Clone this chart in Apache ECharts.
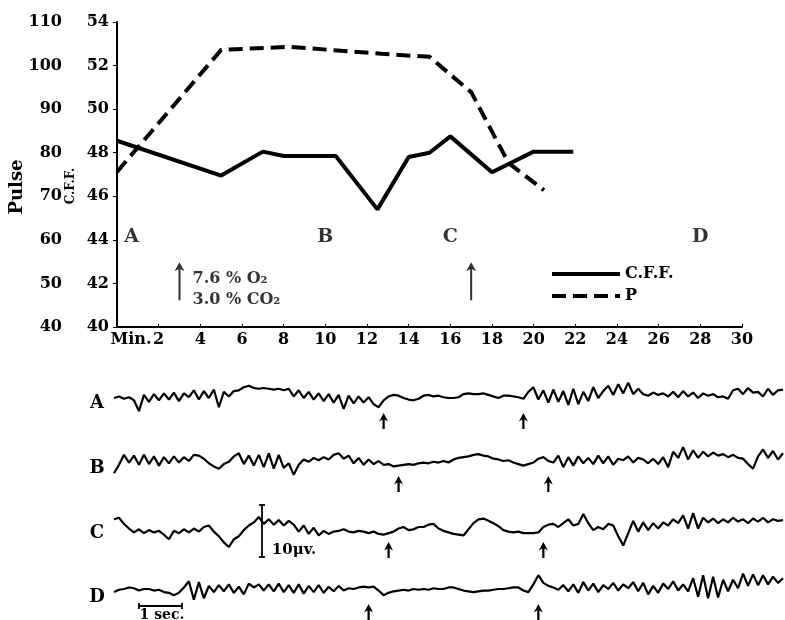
<!DOCTYPE html>
<html>
<head>
<meta charset="utf-8">
<script src="https://cdn.jsdelivr.net/npm/echarts@6.0.0/dist/echarts.min.js"></script>
<style>
  html, body { margin: 0; padding: 0; background: #fff; }
  #main { width: 785px; height: 620px; }
</style>
</head>
<body>
<div id="main"></div>
<script>
// upper panel: C.F.F. and pulse against minutes
var cffMin = [0, 5, 7, 8, 10.5, 12.5, 14, 15, 16, 18, 20, 21.9];
var cffVal = [48.55, 46.95, 48.05, 47.85, 47.85, 45.4, 47.8, 48.0, 48.75, 47.1, 48.05, 48.05];
var pulseMin = [0, 5, 8.3, 12.7, 15, 17, 18.8, 20.5];
var pulseVal = [75.6, 103.6, 104.3, 102.7, 102.0, 93.9, 77.6, 71.4];

// tick labels
var minTicks = [2, 4, 6, 8, 10, 12, 14, 16, 18, 20, 22, 24, 26, 28, 30];
var cffTicks = [40, 42, 44, 46, 48, 50, 52, 54];
var pulseTicks = [40, 50, 60, 70, 80, 90, 100, 110];

// record markers and gas arrows in the upper panel
var recMin = [0.7, 10, 16, 28];
var recNames = ['A', 'B', 'C', 'D'];
var gasMin = [3, 17];
var gasText = ['7.6 % O₂\n3.0 % CO₂', ''];

// EEG records A-D, one value every ~5 px (deflection, up positive)
var traceA = [0, 2, -1, 1, -3, -17,
  4, -5, 5, -3, 6, -2, 7, -4, 6, 1,
  10, -2, 9, 0, 11, -12, 8, 2, 9,
  10, 14, 16, 13, 12, 13,
  12, 11, 12, 10,
  12, 2, 10, 0, 8, -2, 6, -4, 5, -6, 4, -14, 3, -7, 2, -6, 1, -8, -12,
  -3, 2, 4, 3, 0, -2, -3, -1, 3, 4, 2, 3, 1, 0, 0, 1, 5, 6, 5, 5, 6, 4, 2, 0, 3, 3, 2, 1, -1,
  8, 14, -2, 10, -6, 11, -5, 9, -9, 12, -8, 8, -4, 14, 0, 9,
  16, 4, 18, 6, 20, 5, 12,
  5, 3, 7, 4, 6, 2,
  8, 1, 9, 2, 7, 0, 6, 3, 5, 1, 2, -1,
  10, 12, 5, 13, 7, 8, 2, 12, 4, 10, 11];
var traceB = [-16, -5, 8, -2, 7, -5, 8, -4, 6, -6,
  5, -3, 6, -2, 5, 0, 8, 7, 3, -3,
  -7, -10, -4, -1, 6, 10, -4, 7, -6, 8,
  -8, 10, -10, 8, -9, -3, -18, -5, 2, -1,
  4, 1, 5, 2, 8, 10, 3, 7, -3, 4,
  -5, 2, -4, 0, -5, -4, -7, -6, -5, -4,
  -5, -3, -2, -3, -1, -2, 0, -2, 2, 4,
  5, 6, 8, 9, 7, 6, 3, 2, 0, 1,
  -2, -4, -6, -4, -2, 3, 5, 0, -2, 7,
  -8, 5, -6, 6, -3, 4, -4, 7, -3, 6,
  -5, 3, 1, 6, -2, 4, 2, -3, 3, -4,
  5, -8, 12, 4, 18, 2, 14, 4, 12, 6,
  11, 7, 9, 5, 8, 4, 3, -4, -10, 6,
  15, 4, 13, 2, 10];
var traceC = [10, 12, 4, -2, -7, -3, -8, -4, -7, -5,
  -10, -16, -5, -8, -3, -7, -2, -6, 0, 2,
  -6, -12, -20, -26, -16, -12, -4, 2, 6, 13,
  4, 10, 3, 9, 2, 8, 3, -6, 2, -9,
  -1, -11, -5, -9, -6, -5, -3, -6, -7, -5,
  -6, -8, -6, -9, -10, -8, -6, -2, 0, -4,
  -3, 0, 0, 3, 4, -2, -5, -7, -9, -10,
  -11, -3, 5, 10, 11, 8, 5, 1, -4, -6,
  -7, -6, -8, -8, -8, -7, 0, 3, 4, 0,
  5, 10, 2, 4, 17, 5, -4, 0, -3, 4,
  2, -12, -24, -8, 8, -6, 6, -4, 5, -2,
  6, 2, 10, 5, 15, -2, 18, -2, 12, 6,
  11, 5, 10, 6, 12, 7, 10, 5, 11, 7,
  12, 6, 10, 8, 9];
var traceD = [-4, -1, 0, 2, 1, -2, 0, 0, -2, -1,
  -4, -5, -8, -5, 2, 10, -14, 9, -12, 4,
  -4, 5, -3, 6, -5, 3, -7, 7, 2, 6,
  -2, 6, -3, 7, -4, 5, -5, 6, -6, 4,
  -4, 5, -5, 3, -3, 4, -2, 1, 0, 2,
  3, 2, 3, -2, -8, -5, -3, -2, -1, -2,
  0, -1, 0, -1, 1, 0, 0, 2, 2, 0,
  -2, -3, -4, -3, -2, -2, -1, 0, 0, 1,
  2, 2, -2, -4, 6, 18, 8, 4, 2, -1,
  5, -3, 6, -5, 9, -2, 7, -4, 5, 0,
  8, -2, 6, 1, 9, -3, 8, -7, 4, -5,
  7, 0, 10, -2, 6, -3, 14, -10, 18, -12,
  16, -11, 12, -3, 12, 1, 20, 4, 19, 5,
  18, 6, 16, 8, 14];
// sample index of the arrows under each record
var arrowsA = [54, 82];
var arrowsB = [57, 87];
var arrowsC = [55, 86];
var arrowsD = [51, 85];

var FONT = 'DejaVu Serif';
var traces = [traceA, traceB, traceC, traceD];
var arrows = [arrowsA, arrowsB, arrowsC, arrowsD];
var baseY = [398, 461, 527, 589];
var bigArrow = 'path://M5,0 L10,9 L6,7 L6,38 L4,38 L4,7 L0,9 Z';
var smallArrow = 'path://M4,0 L8,8 L5,6 L5,15 L3,15 L3,6 L0,8 Z';

var grids = [{ left: 117, top: 22, width: 625, height: 305, containLabel: false }];
var xAxes = [{
  type: 'value', gridIndex: 0, min: 0, max: minTicks[minTicks.length - 1], interval: minTicks[1] - minTicks[0],
  axisLine: { lineStyle: { color: '#000', width: 2 } },
  axisTick: { inside: true, length: 3, lineStyle: { color: '#000' } },
  splitLine: { show: false },
  axisLabel: {
    color: '#000', fontFamily: FONT, fontSize: 16, fontWeight: 'bold', margin: 5,
    formatter: function (v) { return v === 0 ? '' : String(v); }
  }
}];
var yAxes = [{
  type: 'value', gridIndex: 0, position: 'left',
  min: cffTicks[0], max: cffTicks[cffTicks.length - 1], interval: cffTicks[1] - cffTicks[0],
  axisLine: { show: true, lineStyle: { color: '#000', width: 2 } },
  axisTick: { show: true, length: 4, lineStyle: { color: '#000' } },
  splitLine: { show: false },
  axisLabel: { color: '#000', fontFamily: FONT, fontSize: 16, fontWeight: 'bold', margin: 8 }
}, {
  type: 'value', gridIndex: 0, position: 'left', offset: 47,
  min: pulseTicks[0], max: pulseTicks[pulseTicks.length - 1], interval: pulseTicks[1] - pulseTicks[0],
  axisLine: { show: false }, axisTick: { show: false },
  splitLine: { show: false },
  axisLabel: { color: '#000', fontFamily: FONT, fontSize: 16, fontWeight: 'bold', margin: 8 }
}];

var series = [{
  name: 'C.F.F.', type: 'line', xAxisIndex: 0, yAxisIndex: 0,
  data: cffMin.map(function (m, i) { return [m, cffVal[i]]; }),
  symbol: 'none', itemStyle: { color: '#000' },
  lineStyle: { color: '#000', width: 4 }
}, {
  name: 'P', type: 'line', xAxisIndex: 0, yAxisIndex: 1,
  data: pulseMin.map(function (m, i) { return [m, pulseVal[i]]; }),
  symbol: 'none', itemStyle: { color: '#000' },
  lineStyle: { color: '#000', width: 4, type: [14, 7] }
}, {
  type: 'scatter', xAxisIndex: 0, yAxisIndex: 0,
  data: recMin.map(function (m, i) { return [m, 44.15, recNames[i]]; }),
  symbolSize: 1, itemStyle: { color: 'rgba(0,0,0,0)' },
  label: {
    show: true, position: 'inside', color: '#000', fontFamily: FONT, fontSize: 19, fontWeight: 'bold',
    formatter: function (p) { return p.data[2]; }
  }
}, {
  type: 'scatter', xAxisIndex: 0, yAxisIndex: 0,
  data: gasMin.map(function (m, i) { return [m, 42.1, gasText[i]]; }),
  symbol: bigArrow, symbolSize: [10, 38], itemStyle: { color: '#000' },
  label: {
    show: true, position: 'right', distance: 8, offset: [0, 8],
    color: '#000', fontFamily: FONT, fontSize: 16, fontWeight: 'bold', lineHeight: 21,
    formatter: function (p) { return p.data[2]; }
  }
}];

traces.forEach(function (tr, k) {
  var g = k + 1;
  grids.push({ left: 114, width: 669, top: baseY[k] - 30, height: 60, containLabel: false });
  xAxes.push({
    type: 'category', gridIndex: g, boundaryGap: false, show: false,
    data: tr.map(function (v, i) { return i; })
  });
  yAxes.push({ type: 'value', gridIndex: g, min: -39, max: 39, show: false });
  series.push({
    type: 'line', xAxisIndex: xAxes.length - 1, yAxisIndex: yAxes.length - 1, data: tr,
    symbol: 'none', lineStyle: { color: '#000', width: 2.2 },
    markPoint: {
      symbol: smallArrow, symbolSize: [9, 16],
      itemStyle: { color: '#000' }, label: { show: false },
      data: arrows[k].map(function (i) { return { coord: [i, -30] }; })
    }
  });
});

var txt = function (x, y, s, size, extra) {
  var o = {
    type: 'text', x: x, y: y,
    style: { text: s, fill: '#000', font: 'bold ' + size + 'px "' + FONT + '"', textAlign: 'center', textVerticalAlign: 'middle' }
  };
  if (extra) Object.keys(extra).forEach(function (key) { o[key] = extra[key]; });
  return o;
};
var ln = function (x1, y1, x2, y2, w) {
  return { type: 'line', shape: { x1: x1, y1: y1, x2: x2, y2: y2 }, style: { stroke: '#000', lineWidth: w || 1.5 } };
};

var graphics = [
  txt(17, 187, 'Pulse', 18, { rotation: Math.PI / 2 }),
  txt(71, 186, 'C.F.F.', 12, { rotation: Math.PI / 2 }),
  txt(131, 340, 'Min.', 16),
  // scale bars
  ln(262, 505, 262, 557, 1.8), ln(259, 505, 265, 505, 1.8), ln(259, 557, 265, 557, 1.8),
  txt(294, 550, '10μv.', 15),
  ln(139, 606, 182, 606, 1.8), ln(139, 603, 139, 609, 1.8), ln(182, 603, 182, 609, 1.8),
  txt(162, 615, '1 sec.', 14)
];
recNames.forEach(function (n, k) {
  graphics.push(txt(97, [403, 468, 533, 597][k], n, 18));
});

var chart = echarts.init(document.getElementById('main'));
chart.setOption({
  animation: false,
  backgroundColor: '#fff',
  grid: grids,
  xAxis: xAxes,
  yAxis: yAxes,
  legend: {
    data: ['C.F.F.', 'P'], orient: 'vertical', left: 550, top: 266,
    itemWidth: 68, itemHeight: 14, itemGap: 6, itemTextGap: 10, padding: 0,
    itemStyle: { opacity: 0 },
    lineStyle: { width: 4 },
    textStyle: { color: '#000', fontFamily: FONT, fontSize: 16, fontWeight: 'bold' }
  },
  graphic: graphics,
  series: series
});
</script>
</body>
</html>
